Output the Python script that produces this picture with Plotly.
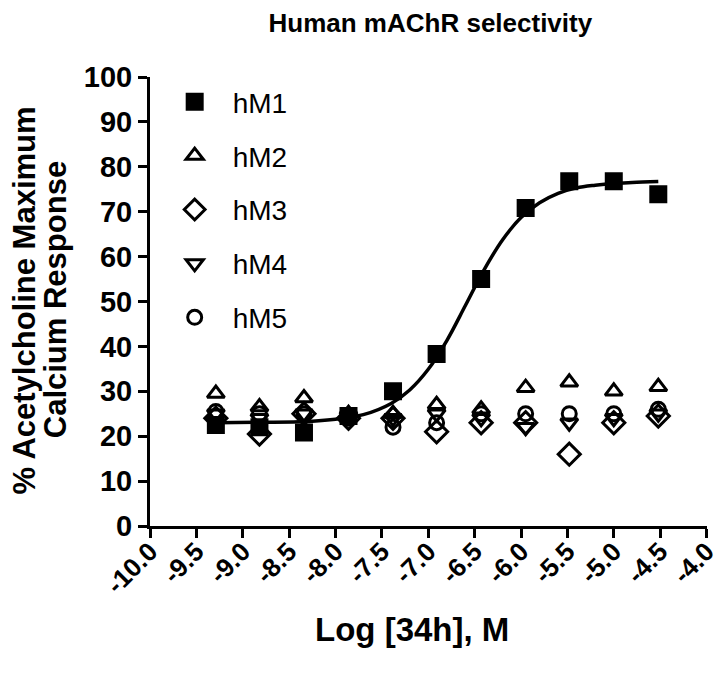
import plotly.graph_objects as go

# Log concentration of compound 34h (M)
log_conc = [-9.29, -8.82, -8.34, -7.86, -7.38, -6.91, -6.43, -5.95, -5.48, -5.00, -4.52]

# % acetylcholine max calcium response per receptor subtype
hM1 = [22.5, 22.0, 20.8, 24.5, 30.0, 38.3, 55.0, 70.8, 76.8, 76.8, 73.9]
hM2 = [29.5, 26.5, 28.5, 25.0, 25.0, 27.0, 26.0, 30.8, 32.0, 30.0, 31.0]
hM3 = [24.0, 20.5, 25.0, 24.0, 24.0, 21.0, 23.0, 23.0, 16.0, 23.0, 24.5]
hM4 = [25.0, 24.0, 25.0, 24.5, 24.0, 25.0, 24.0, 22.0, 23.0, 24.0, 25.0]
hM5 = [25.5, 25.0, 25.0, 24.0, 22.0, 23.0, 25.0, 25.0, 25.0, 25.0, 26.0]

# hM1 fitted curve
fit_x = [-9.29, -8.8, -8.4, -8.0, -7.7, -7.4, -7.2, -7.0, -6.8, -6.6, -6.4, -6.2,
         -6.0, -5.8, -5.6, -5.4, -5.2, -5.0, -4.8, -4.52]
fit_y = [23.0, 23.1, 23.2, 23.8, 24.8, 27.3, 30.3, 34.9, 41.3, 49.1, 57.0, 63.7,
         68.7, 72.0, 74.1, 75.3, 75.9, 76.3, 76.5, 76.7]

x_tickvals = [-10.0, -9.5, -9.0, -8.5, -8.0, -7.5, -7.0, -6.5, -6.0, -5.5, -5.0, -4.5, -4.0]
x_ticktext = ["-10.0", "-9.5", "-9.0", "-8.5", "-8.0", "-7.5", "-7.0", "-6.5",
              "-6.0", "-5.5", "-5.0", "-4.5", "-4.0"]
y_tickvals = [0, 10, 20, 30, 40, 50, 60, 70, 80, 90, 100]

FONT = "Liberation Sans, Arial, sans-serif"

series = [
    ("hM1", hM1, "square", 15),
    ("hM2", hM2, "triangle-up-open", 15),
    ("hM3", hM3, "diamond-open", 17),
    ("hM4", hM4, "triangle-down-open", 15),
    ("hM5", hM5, "circle-open", 14),
]

fig = go.Figure()

fig.add_trace(go.Scatter(
    x=fit_x, y=fit_y, mode="lines", line=dict(color="black", width=3.5, shape="spline"),
    showlegend=False, hoverinfo="skip"))

for name, vals, sym, size in series:
    fig.add_trace(go.Scatter(
        x=log_conc, y=vals, mode="markers", name=name, legendgroup=name,
        marker=dict(symbol=sym, size=size, color="black",
                    line=dict(color="black", width=3)),
    ))

fig.update_layout(
    width=722, height=673,
    margin=dict(l=142, r=23, t=69, b=155),
    paper_bgcolor="white", plot_bgcolor="white",
    title=dict(text="<b>Human mAChR selectivity</b>", x=0.585, xanchor="center",
               y=0.978, yanchor="middle",
               font=dict(family=FONT, size=26, color="black")),
    legend=dict(x=0.012, y=1.0, xanchor="left", yanchor="top",
                font=dict(family=FONT, size=28, color="black"),
                tracegroupgap=14.5, itemwidth=66, bgcolor="rgba(0,0,0,0)"),
    showlegend=True,
    annotations=[
        dict(text="<b>% Acetylcholine Maximum</b>", textangle=-90, xref="paper", yref="paper",
             x=-0.2254, y=0.503, xanchor="center", yanchor="middle", showarrow=False,
             font=dict(family=FONT, size=31, color="black")),
        dict(text="<b>Calcium Response</b>", textangle=-90, xref="paper", yref="paper",
             x=-0.1704, y=0.503, xanchor="center", yanchor="middle", showarrow=False,
             font=dict(family=FONT, size=31, color="black")),
        dict(text="<b>Log [34h], M</b>", xref="paper", yref="paper",
             x=0.470, y=-0.2316, xanchor="center", yanchor="middle", showarrow=False,
             font=dict(family=FONT, size=33, color="black")),
    ],
)

fig.update_xaxes(
    range=[-10, -3.995], tickvals=x_tickvals, ticktext=x_ticktext, tickangle=-45,
    showline=True, linecolor="black", linewidth=3, mirror=False,
    ticks="outside", ticklen=9, tickwidth=3, tickcolor="black",
    showgrid=False, zeroline=False, automargin=False, ticklabelstandoff=-12,
    ticklabeloverflow="allow",
    tickfont=dict(family=FONT, size=26, color="black", weight="bold"),
)
fig.update_yaxes(
    range=[0, 100], tickvals=y_tickvals,
    showline=True, linecolor="black", linewidth=3, mirror=False,
    ticks="outside", ticklen=9, tickwidth=3, tickcolor="black",
    showgrid=False, zeroline=False, automargin=False,
    tickfont=dict(family=FONT, size=29, color="black", weight="bold"),
)

fig.write_html("out.html")
